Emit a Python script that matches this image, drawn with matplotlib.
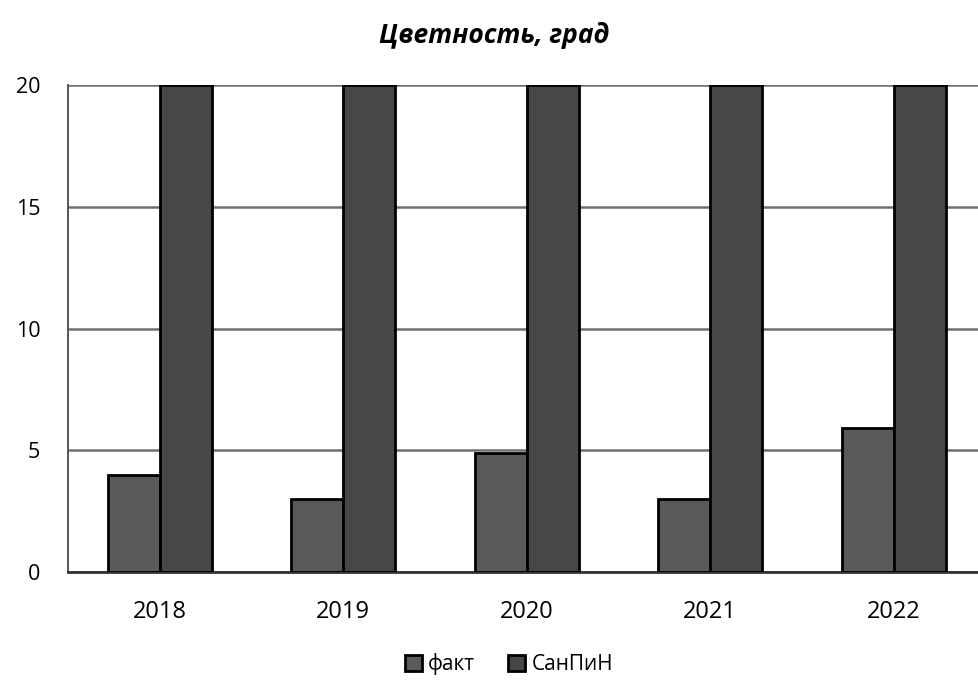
import matplotlib
matplotlib.use("Agg")
import matplotlib.pyplot as plt
import numpy as np

plt.rcParams['font.family'] = ['Open Sans', 'DejaVu Sans']

years = ['2018', '2019', '2020', '2021', '2022']
fact = [4, 3, 4.9, 3, 5.9]
sanpin = [20, 20, 20, 20, 20]
series_names = ['факт', 'СанПиН']
y_ticks = [0, 5, 10, 15, 20]

fig = plt.figure(figsize=(9.79, 6.81), dpi=100)
ax = fig.add_axes([0.0695, 0.160, 0.937, 0.715])

x = np.arange(len(years))
w = 0.283
ax.bar(x - w / 2, fact, width=w, color='#5a5a5a', edgecolor='black',
       linewidth=2, label=series_names[0], zorder=3)
ax.bar(x + w / 2, sanpin, width=w, color='#474747', edgecolor='black',
       linewidth=2, label=series_names[1], zorder=3)

ax.set_xlim(-0.5, len(years) - 0.5)
ax.set_ylim(0, 20)
ax.set_yticks(y_ticks)
ax.set_xticks(x)
ax.set_xticklabels(years)
ax.yaxis.grid(True, color='#707070', linewidth=1.8, zorder=0)
ax.set_axisbelow(True)

for side in ['top', 'right']:
    ax.spines[side].set_visible(False)
ax.spines['left'].set_color('#555555')
ax.spines['left'].set_linewidth(1.4)
ax.spines['bottom'].set_color('#333333')
ax.spines['bottom'].set_linewidth(2)

ax.tick_params(axis='y', length=0, labelsize=15.5, colors='black', pad=20)
ax.tick_params(axis='x', length=0, labelsize=17, colors='black', pad=20)

fig.text(0.505, 0.948, 'Цветность, град', ha='center', va='center',
         fontsize=19, fontweight='bold', fontstyle='italic')

fig.legend(loc='center', bbox_to_anchor=(0.52, 0.025), ncol=2, frameon=False,
           fontsize=15, handlelength=0.8, handleheight=0.8,
           handletextpad=0.3, columnspacing=1.6)

fig.savefig('out.png', dpi=100, facecolor='white')
